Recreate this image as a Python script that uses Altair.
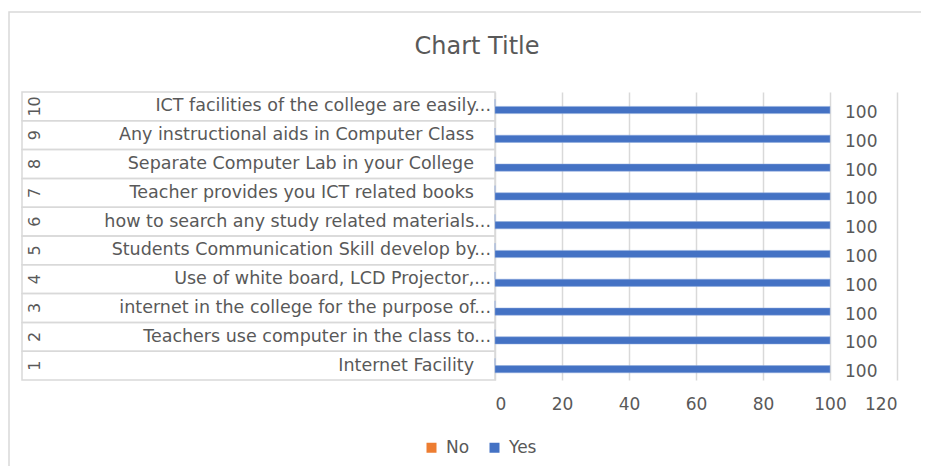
import altair as alt
import pandas as pd

nums = [1, 2, 3, 4, 5, 6, 7, 8, 9, 10]
labels = [
    "Internet Facility",
    "Teachers use computer in the class to...",
    "internet in the college for the purpose of...",
    "Use of white board, LCD Projector,...",
    "Students Communication Skill develop by...",
    "how to search any study related materials...",
    "Teacher provides you ICT related books",
    "Separate Computer Lab in your College",
    "Any instructional aids in Computer Class",
    "ICT facilities of the college are easily...",
]
no_values = [0, 0, 0, 0, 0, 0, 0, 0, 0, 0]
yes_values = [100, 100, 100, 100, 100, 100, 100, 100, 100, 100]
x_ticks = [0, 20, 40, 60, 80, 100, 120]
series_names = ["No", "Yes"]
series_colors = ["#ED7D31", "#4472C4"]
chart_title = "Chart Title"

rows = []
for n, no, yes in zip(nums, no_values, yes_values):
    rows.append({"num": n, "series": "No", "value": no})
    rows.append({"num": n, "series": "Yes", "value": yes})
df = pd.DataFrame(rows)
cats = pd.DataFrame({
    "num": nums,
    "label": labels,
    "numtxt": [str(n) for n in nums],
    "cut": [l.endswith("...") for l in labels],
})
single_df = pd.DataFrame({"t": [chart_title]})

FONT = "DejaVu Sans"
GREY = "#595959"
LBL = 17.5

y_enc = alt.Y("num:O", sort="descending",
              scale=alt.Scale(paddingInner=0, paddingOuter=0), axis=None)
yoff = alt.YOffset("series:N", sort=series_names,
                   scale=alt.Scale(paddingInner=0, paddingOuter=1))

x_enc = alt.X("value:Q", scale=alt.Scale(domain=[0, 120], nice=False),
              axis=alt.Axis(values=x_ticks, grid=True, gridColor="#d9d9d9",
                            gridWidth=1.5, domain=False, ticks=False,
                            labelFontSize=17, labelColor=GREY, labelFont=FONT,
                            labelPadding=16, title=None))

bars = alt.Chart(df).mark_bar(stroke="#8faadc", strokeWidth=0.5).encode(
    x=x_enc,
    y=y_enc,
    yOffset=yoff,
    color=alt.Color("series:N",
                    scale=alt.Scale(domain=series_names, range=series_colors),
                    legend=alt.Legend(orient="none", legendX=-72, legendY=347,
                                      direction="horizontal", title=None,
                                      symbolType="square", symbolSize=100,
                                      symbolStrokeWidth=0,
                                      labelFontSize=17, labelColor=GREY,
                                      labelFont=FONT, columnPadding=16,
                                      labelOffset=6)),
)

value_labels = alt.Chart(df).transform_filter(alt.datum.series == "Yes").mark_text(
    align="left", baseline="middle", dx=15, dy=3, fontSize=17, font=FONT, color=GREY
).encode(
    x="value:Q",
    y=y_enc,
    yOffset=yoff,
    text=alt.Text("value:Q"),
)

row_boxes = alt.Chart(cats).mark_rect(filled=False, stroke="#d9d9d9", strokeWidth=1.5).encode(
    x=alt.value(-473),
    x2=alt.value(0),
    y=y_enc,
)

cat_labels_cut = alt.Chart(cats).transform_filter(alt.datum.cut).mark_text(
    align="right", baseline="middle", fontSize=LBL, font=FONT, color=GREY
).encode(
    x=alt.value(-4),
    y=y_enc,
    text="label:N",
)

cat_labels_full = alt.Chart(cats).transform_filter(~alt.datum.cut).mark_text(
    align="right", baseline="middle", fontSize=LBL, font=FONT, color=GREY
).encode(
    x=alt.value(-21),
    y=y_enc,
    text="label:N",
)

num_labels = alt.Chart(cats).mark_text(
    align="center", baseline="middle", angle=270, fontSize=16, font=FONT, color=GREY
).encode(
    x=alt.value(-460),
    y=y_enc,
    text="numtxt:N",
)

frame = alt.Chart(single_df).mark_rect(filled=False, stroke="#d9d9d9", strokeWidth=1.5).encode(
    x=alt.value(-486),
    x2=alt.value(500),
    y=alt.value(-80),
    y2=alt.value(500),
)

title_text = alt.Chart(single_df).mark_text(
    align="center", baseline="alphabetic", fontSize=24, font=FONT, color=GREY
).encode(
    x=alt.value(-18),
    y=alt.value(-38),
    text="t:N",
)

chart = alt.layer(frame, row_boxes, bars, value_labels,
                  cat_labels_cut, cat_labels_full, num_labels, title_text).properties(
    width=402,
    height=288,
    autosize=alt.AutoSizeParams(type="none"),
    padding={"left": 487, "top": 84, "right": 24, "bottom": 86},
).configure_view(stroke=None)

chart.save("out.html", embed_options={"renderer": "svg", "actions": False})
